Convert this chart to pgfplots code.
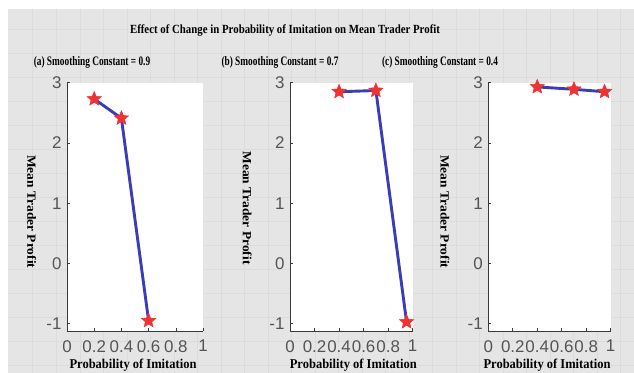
\documentclass[border=0pt]{standalone}
\usepackage{fontspec}
\setmainfont{Liberation Serif}
\newfontfamily\tickfont{Liberation Sans}
\usepackage{pgfplots}
\pgfplotsset{compat=1.18}
\definecolor{bggray}{HTML}{E5E5E5}
\definecolor{gridgray}{HTML}{DCDCDC}
\definecolor{axisgray}{HTML}{3A3A3A}
\definecolor{tickgray}{HTML}{555555}
\definecolor{lineblue}{HTML}{3A3DB5}
\definecolor{starred}{HTML}{F03232}
\pgfdeclareplotmark{fstar}{%
\pgfpathmoveto{\pgfpointpolar{90}{\pgfplotmarksize}}%
\pgfpathlineto{\pgfpointpolar{126}{0.45\pgfplotmarksize}}%
\pgfpathlineto{\pgfpointpolar{162}{\pgfplotmarksize}}%
\pgfpathlineto{\pgfpointpolar{198}{0.45\pgfplotmarksize}}%
\pgfpathlineto{\pgfpointpolar{234}{\pgfplotmarksize}}%
\pgfpathlineto{\pgfpointpolar{270}{0.45\pgfplotmarksize}}%
\pgfpathlineto{\pgfpointpolar{306}{\pgfplotmarksize}}%
\pgfpathlineto{\pgfpointpolar{342}{0.45\pgfplotmarksize}}%
\pgfpathlineto{\pgfpointpolar{18}{\pgfplotmarksize}}%
\pgfpathlineto{\pgfpointpolar{54}{0.45\pgfplotmarksize}}%
\pgfpathclose\pgfusepathqfillstroke}
\pgfplotsset{
  panel/.style={
    scale only axis, height=248.3bp,
    xmin=0, xmax=1, ymin=-1.12, ymax=3,
    axis lines=left, axis line style={-, draw=axisgray, line width=0.9pt},
    tick align=inside, major tick length=3bp,
    tick style={draw=axisgray, line width=0.6pt},
    xtick={0,0.2,0.4,0.6,0.8,1}, xticklabels={0,0.2,0.4,0.6,0.8,1},
    ytick={-1,0,1,2,3}, yticklabels={-1,0,1,2,3},
    ticklabel style={font=\tickfont\fontsize{17}{17}\selectfont, text=tickgray},
    xticklabel style={inner sep=1bp, yshift=-8bp},
    yticklabel style={xshift=-2bp},
    axis background/.style={fill=white},
    clip=false,
  },
  dat/.style={draw=lineblue, line width=2.9bp, mark=fstar, mark size=7.5bp,
    mark options={fill=starred, draw=starred, line width=0.5pt}},
}
\begin{document}
\begin{tikzpicture}
\path[use as bounding box] (0,0) rectangle (634bp,373bp);
\fill[white] (0,0) rectangle (634bp,373bp);
\fill[bggray] (8bp,0) rectangle (634bp,364bp);
\foreach \x in {32,56,80,103,127,150,174,197,221,244,268,291,315,338,362,385,409,432,456,479,503,526,550,573,597,620}{
  \draw[gridgray, line width=0.5bp] (\x bp,0) -- (\x bp,364bp);}
\foreach \y in {8,32,56,80,104,128,152,176,200,224,248,272,296,320,344}{
  \draw[gridgray, line width=0.5bp] (8bp,\y bp) -- (634bp,\y bp);}

\begin{axis}[panel, at={(67bp,42bp)}, anchor=south west, width=136bp]
\addplot[dat] coordinates {(0.2,2.73) (0.4,2.41) (0.6,-0.95)};
\end{axis}
\begin{axis}[panel, at={(290bp,42bp)}, anchor=south west, width=122.7bp]
\addplot[dat] coordinates {(0.4,2.85) (0.7,2.87) (0.95,-0.97)};
\end{axis}
\begin{axis}[panel, at={(488.3bp,42bp)}, anchor=south west, width=122.4bp]
\addplot[dat] coordinates {(0.4,2.93) (0.7,2.89) (0.95,2.85)};
\end{axis}

\node[font=\bfseries\fontsize{12.5}{13}\selectfont, xscale=0.87] at (285bp,343bp) {Effect of Change in Probability of Imitation on Mean Trader Profit};
\node[font=\bfseries\fontsize{13}{13}\selectfont, xscale=0.72] at (92bp,311bp) {(a) Smoothing Constant = 0.9};
\node[font=\bfseries\fontsize{13}{13}\selectfont, xscale=0.72] at (280bp,311bp) {(b) Smoothing Constant = 0.7};
\node[font=\bfseries\fontsize{13}{13}\selectfont, xscale=0.72] at (440bp,311bp) {(c) Smoothing Constant = 0.4};
\foreach \px/\py in {31.7/161.3, 247.3/165, 445/161.3}{
  \node[font=\bfseries\fontsize{13.5}{14}\selectfont, rotate=-90, yscale=0.93] at (\px bp,\py bp) {Mean Trader Profit};}
\foreach \px in {133, 353.3, 547}{
  \node[font=\bfseries\fontsize{13.5}{14}\selectfont, xscale=0.93] at (\px bp,8bp) {Probability of Imitation};}
\end{tikzpicture}
\end{document}
